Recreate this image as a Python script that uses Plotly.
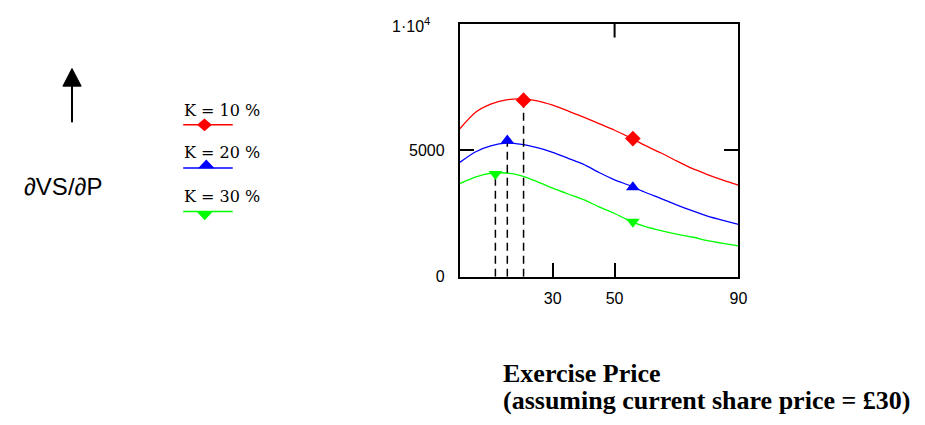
import plotly.graph_objects as go

# ---- data ----
exercise_price = [0, 5, 10, 15, 20, 25, 30, 35, 40, 45, 50, 55, 60, 65, 70, 75, 80, 85, 90]
k10 = [5850, 6490, 6820, 6990, 7030, 6950, 6780, 6550, 6310, 6050, 5790, 5500, 5180, 4890, 4580, 4280, 4040, 3820, 3620]
k20 = [4520, 4930, 5170, 5280, 5230, 5100, 4920, 4680, 4440, 4120, 3830, 3600, 3330, 3090, 2840, 2610, 2400, 2230, 2070]
k30 = [3680, 3940, 4090, 4100, 3990, 3760, 3500, 3270, 3050, 2760, 2500, 2200, 1980, 1820, 1680, 1570, 1430, 1320, 1220]

# marker points
mk10_x = [20.6, 55.9]; mk10_y = [6980, 5460]
mk20_x = [15.35, 55.9]; mk20_y = [5385, 3535]
mk30_x = [11.5, 55.9]; mk30_y = [4060, 2175]

# peaks (dashed droplines)
peak_x = [20.6, 15.35, 11.5]
peak_y = [7030, 5300, 4080]

series_names = ["K = 10 %", "K = 20 %", "K = 30 %"]
colors = ["#ff0000", "#0000ff", "#00ff00"]
symbols = ["diamond", "triangle-up", "triangle-down"]

x_ticks = [30, 50, 90]
x_top_ticks = [50]
y_ticks = [0, 5000]
y_tick_text = ["0", "5000"]

W, H = 925, 425


def px(x):
    return x / W


def py(y):
    return 1 - y / H


def path(points):
    return "M " + " L ".join(f"{px(a):.5f},{py(b):.5f}" for a, b in points) + " Z"


fig = go.Figure()

for ys, col in zip([k10, k20, k30], colors):
    fig.add_trace(go.Scatter(x=exercise_price, y=ys, mode="lines",
                             line=dict(color=col, width=1.3, shape="spline", smoothing=0.6),
                             showlegend=False, hoverinfo="skip"))

for pxx, pyy in zip(peak_x, peak_y):
    fig.add_trace(go.Scatter(x=[pxx, pxx], y=[0, pyy], mode="lines",
                             line=dict(color="black", width=1.5, dash="8px,5px"),
                             showlegend=False, hoverinfo="skip"))

for mx, my, col, sym in zip([mk10_x, mk20_x, mk30_x], [mk10_y, mk20_y, mk30_y], colors, symbols):
    fig.add_trace(go.Scatter(x=mx, y=my, mode="markers",
                             marker=dict(color=col, symbol=sym, size=12, line=dict(width=0)),
                             showlegend=False, hoverinfo="skip"))

x0, x1 = 464.3 / W, 745.7 / W
y0, y1 = 1 - 282.7 / H, 1 - 24.3 / H

# top inside tick(s) as in the reference frame
for t in x_top_ticks:
    fig.add_shape(type="line", xref="x", yref="paper", x0=t, x1=t, y0=y1, y1=y1 - 14 / H,
                  line=dict(color="black", width=2))

# ---- manual legend (paper coordinates) ----
leg_text_y = [112.5, 156, 200.5]
leg_line_y = [127.5, 171.7, 216]
for i in range(3):
    fig.add_shape(type="line", xref="paper", yref="paper", x0=px(185), x1=px(235),
                  y0=py(leg_line_y[i]), y1=py(leg_line_y[i]),
                  line=dict(color=colors[i], width=1.5))
    fig.add_annotation(x=px(184), y=py(leg_text_y[i]), xref="paper", yref="paper",
                       text=series_names[i], showarrow=False, xanchor="left", yanchor="middle",
                       font=dict(family="DejaVu Serif", size=16, color="black"))
# legend symbols
fig.add_shape(type="path", xref="paper", yref="paper",
              path=path([(199, 127.5), (206.5, 121), (214, 127.5), (206.5, 134)]),
              fillcolor=colors[0], line=dict(width=0))
fig.add_shape(type="path", xref="paper", yref="paper",
              path=path([(200, 172), (208.3, 163), (216.7, 172)]),
              fillcolor=colors[1], line=dict(width=0))
fig.add_shape(type="path", xref="paper", yref="paper",
              path=path([(198.5, 216), (206.7, 225), (215, 216)]),
              fillcolor=colors[2], line=dict(width=0))

# arrow (shaft + head) and y label
fig.add_shape(type="line", xref="paper", yref="paper", x0=px(72.7), x1=px(72.7),
              y0=py(125), y1=py(86), line=dict(color="black", width=2))
fig.add_shape(type="path", xref="paper", yref="paper",
              path=path([(63.5, 88), (72.7, 70), (82, 88)]),
              fillcolor="black", line=dict(color="black", width=1))
fig.add_annotation(x=px(22), y=py(191), xref="paper", yref="paper", text="∂VS/∂P",
                   showarrow=False, xanchor="left", yanchor="middle",
                   font=dict(family="Liberation Sans", size=24, color="black"))

# bottom titles
fig.add_annotation(x=px(506), y=py(382), xref="paper", yref="paper",
                   text="<b>Exercise Price</b>", showarrow=False,
                   xanchor="left", yanchor="middle",
                   font=dict(family="Liberation Serif", size=26, color="black"))
fig.add_annotation(x=px(506), y=py(409), xref="paper", yref="paper",
                   text="<b>(assuming current share price = £30)</b>", showarrow=False,
                   xanchor="left", yanchor="middle",
                   font=dict(family="Liberation Serif", size=26, color="black"))

# 1·10^4 top label
fig.add_annotation(x=px(436), y=py(26), xref="paper", yref="paper", text="1·10<sup>4</sup>",
                   showarrow=False, xanchor="right", yanchor="middle",
                   font=dict(family="Liberation Sans", size=16, color="black"))

fig.update_layout(
    width=W, height=H,
    margin=dict(l=0, r=0, t=0, b=0),
    paper_bgcolor="white", plot_bgcolor="white",
    showlegend=False,
    xaxis=dict(domain=[x0, x1], range=[0, 90], tickvals=x_ticks, ticks="inside", ticklen=14,
               tickwidth=2, tickcolor="black", showline=True, linewidth=2, linecolor="black",
               mirror=True, showgrid=False, zeroline=False, ticklabelstandoff=6,
               tickfont=dict(family="Liberation Sans", size=16, color="black")),
    yaxis=dict(domain=[y0, y1], range=[0, 10000], tickvals=y_ticks, ticktext=y_tick_text,
               ticks="inside", ticklen=14, tickwidth=2, tickcolor="black", showline=True,
               linewidth=2, linecolor="black", mirror="ticks", showgrid=False, zeroline=False,
               ticklabelstandoff=10,
               tickfont=dict(family="Liberation Sans", size=16, color="black")),
)

fig.write_html("out.html")
